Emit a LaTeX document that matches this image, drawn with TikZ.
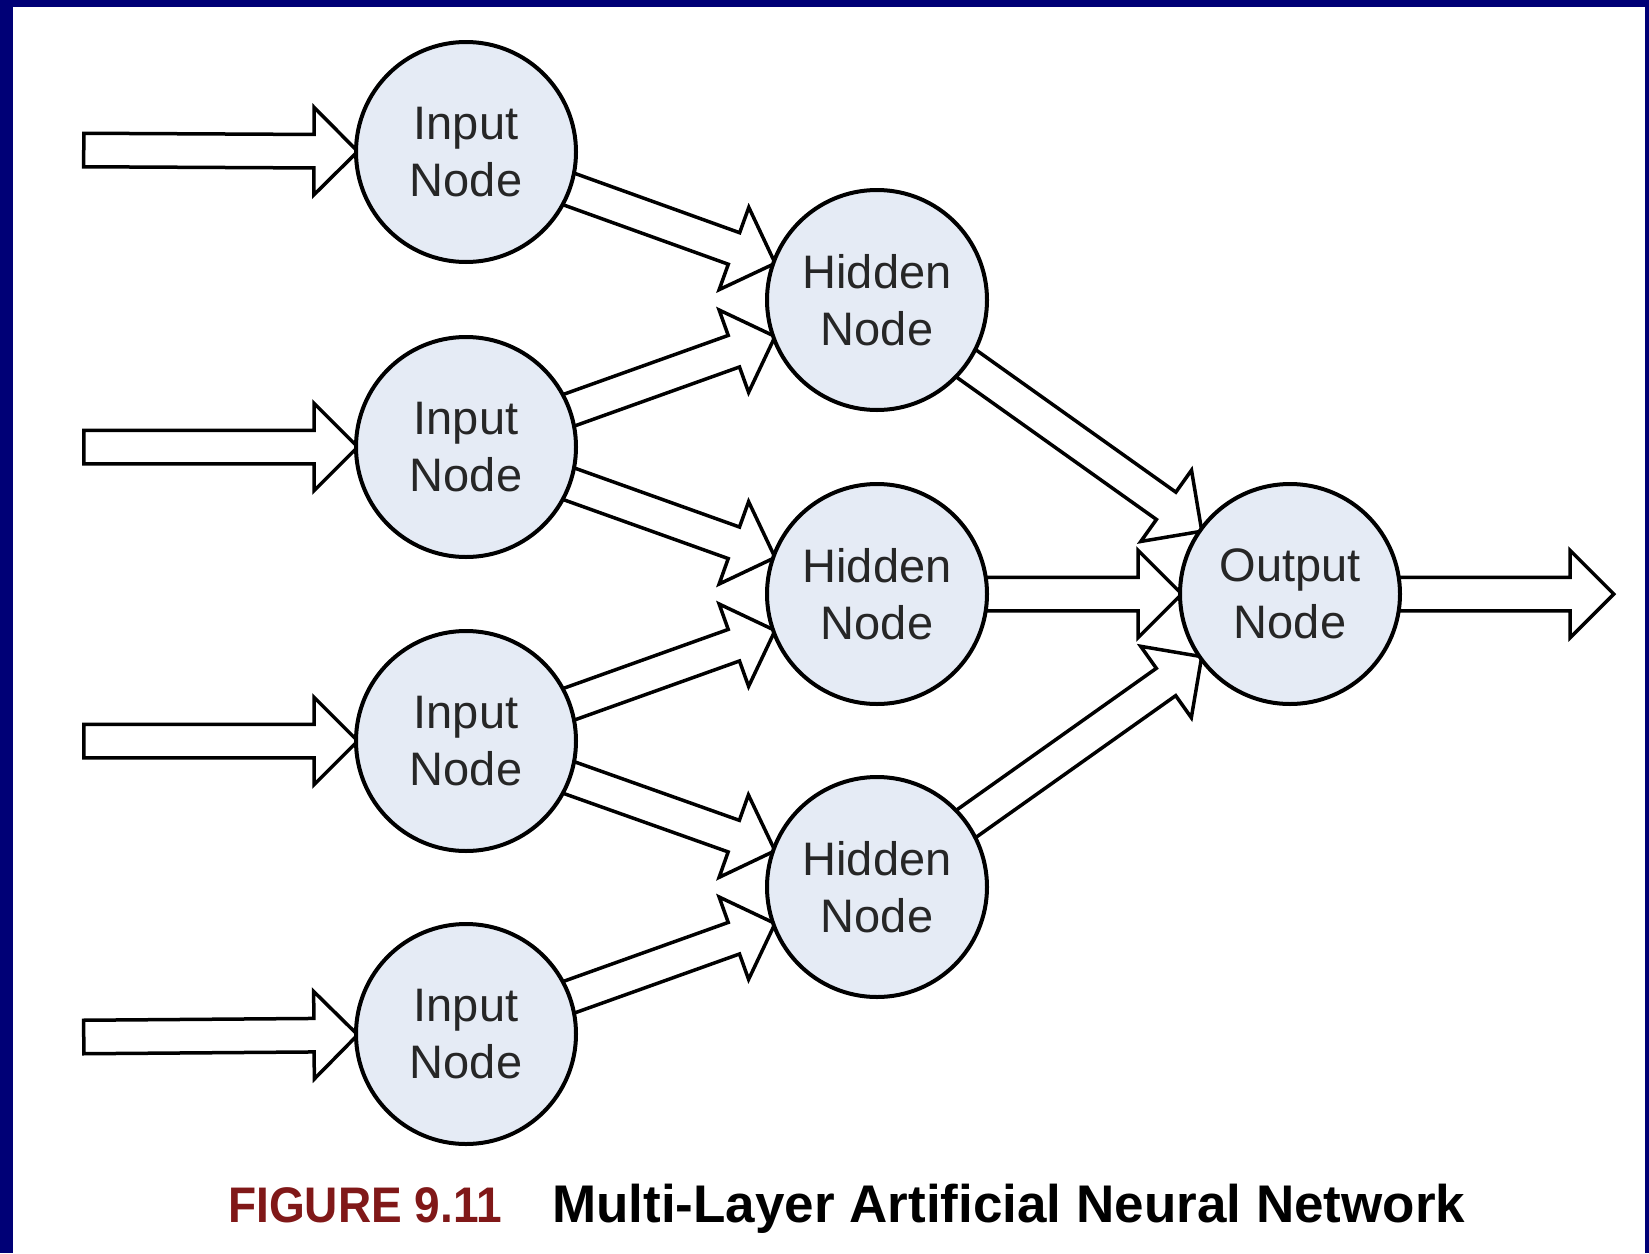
\documentclass[tikz,border=0pt]{standalone}
\usepackage{fontspec}
\setmainfont{Liberation Sans}
\usetikzlibrary{calc,shapes.arrows}
\definecolor{navyb}{RGB}{0,0,118}
\definecolor{nodefill}{RGB}{229,235,245}
\definecolor{txtgray}{RGB}{38,38,38}
\definecolor{figred}{RGB}{128,24,24}
\pgfdeclarelayer{bg}
\pgfdeclarelayer{arr}
\pgfsetlayers{bg,arr,main}
\tikzset{
  neuron/.style={circle, draw=black, line width=4pt, fill=nodefill, minimum size=220pt,
    inner sep=0pt, align=center, text=txtgray, font=\fontsize{47}{57}\selectfont},
  fatarr/.style={single arrow, draw=black, line width=3.5pt, fill=white,
    inner xsep=0pt, inner ysep=15pt, minimum width=84pt,
    single arrow head extend=27pt, single arrow tip angle=90},
  captext/.style={anchor=base west, inner sep=0pt}
}
\newcommand\fat[4]{%
  \path let \p1=($(#1)!#3!(#2)$), \p2=($(#2)!#4!(#1)$), \p3=($(\p2)-(\p1)$),
    \n1={atan2(\y3,\x3)}, \n2={veclen(\x3,\y3)} in
    node[fatarr, rotate=\n1, minimum height=\n2, anchor=tail] at (\p1) {};}
\begin{document}
\begin{tikzpicture}[x=1pt,y=-1pt]
\begin{pgfonlayer}{bg}
\fill[navyb] (0,0) rectangle (1649,1253);
\fill[white] (13,7) rectangle (1645,1253);
\end{pgfonlayer}
\useasboundingbox (0,0) rectangle (1649,1253);
% nodes
\node[neuron] (i1) at (466,152) {Input\\Node};
\node[neuron] (i2) at (466,447) {Input\\Node};
\node[neuron] (i3) at (466,741) {Input\\Node};
\node[neuron] (i4) at (466,1034) {Input\\Node};
\node[neuron] (h1) at (877,300) {Hidden\\Node};
\node[neuron] (h2) at (877,594) {Hidden\\Node};
\node[neuron] (h3) at (877,887) {Hidden\\Node};
\node[neuron] (o) at (1290,594) {Output\\Node};
\coordinate (s1) at (82,150);
\coordinate (s2) at (82,447);
\coordinate (s3) at (82,741);
\coordinate (s4) at (82,1037);
\coordinate (e) at (1612,594);
\begin{pgfonlayer}{arr}
\fat{s1}{i1}{0pt}{110pt}
\fat{s2}{i2}{0pt}{110pt}
\fat{s3}{i3}{0pt}{110pt}
\fat{s4}{i4}{0pt}{110pt}
\fat{i1}{h1}{104pt}{110pt}
\fat{i2}{h1}{104pt}{110pt}
\fat{i2}{h2}{104pt}{110pt}
\fat{i3}{h2}{104pt}{110pt}
\fat{i3}{h3}{104pt}{110pt}
\fat{i4}{h3}{104pt}{110pt}
\fat{h1}{o}{104pt}{110pt}
\fat{h2}{o}{104pt}{110pt}
\fat{h3}{o}{104pt}{110pt}
\fat{o}{e}{104pt}{0pt}
\end{pgfonlayer}
% caption
\node[captext, text=figred, font=\fontsize{50}{58}\selectfont\bfseries] (fig) at (228,1222) {\scalebox{0.92}[1]{FIGURE 9.11}};
\node[captext, text=black, font=\fontsize{53}{62}\selectfont\bfseries] (title) at (552,1222) {Multi-Layer Artificial Neural Network};
\end{tikzpicture}
\end{document}
